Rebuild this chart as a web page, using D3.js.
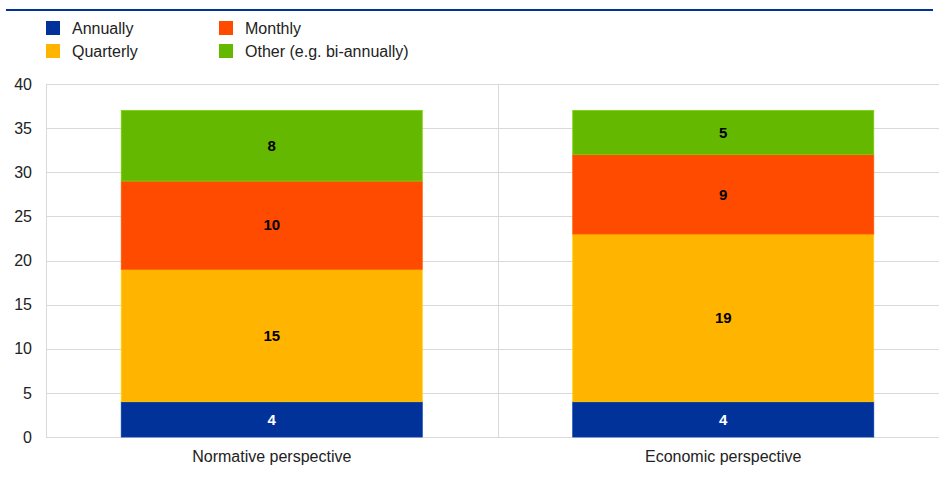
<!DOCTYPE html>
<html>
<head>
<meta charset="utf-8">
<script src="https://cdn.jsdelivr.net/npm/d3@7"></script>
<style>
  html, body { margin: 0; padding: 0; background: #fff; }
  svg { display: block; font-family: "Liberation Sans", Arial, sans-serif; }
</style>
</head>
<body>
<svg id="chart" width="939" height="480"></svg>
<script>
// Categories and stacked series (number of respondents per reporting frequency)
const categories = ["Normative perspective", "Economic perspective"];
const seriesNames = ["Annually", "Quarterly", "Monthly", "Other (e.g. bi-annually)"];
const annually = [4, 4];
const quarterly = [15, 19];
const monthly = [10, 9];
const other = [8, 5];
const yTicks = [0, 5, 10, 15, 20, 25, 30, 35, 40];
const colors = ["#003299", "#ffb400", "#ff4b00", "#65b800"];

const svg = d3.select("#chart");
const W = 939, H = 480;
const margin = { left: 46, right: -10, top: 84, bottom: 43 };
const plotW = W - margin.left - margin.right;
const plotH = H - margin.top - margin.bottom;

const rows = categories.map((c, i) => ({
  cat: c,
  "Annually": annually[i],
  "Quarterly": quarterly[i],
  "Monthly": monthly[i],
  "Other (e.g. bi-annually)": other[i]
}));
const stacked = d3.stack().keys(seriesNames)(rows);

const x = d3.scaleBand().domain(categories).range([margin.left, margin.left + plotW])
  .paddingInner(0).paddingOuter(0);
const y = d3.scaleLinear().domain([0, 40]).range([margin.top + plotH, margin.top]);
const barW = x.bandwidth() * 2 / 3;

// Top rule
svg.append("rect").attr("x", 6).attr("y", 9).attr("width", 927).attr("height", 2).attr("fill", "#003299");

// Gridlines
const grid = svg.append("g");
grid.selectAll("line.h").data(yTicks).join("line")
  .attr("x1", margin.left).attr("x2", W)
  .attr("y1", d => Math.round(y(d)) + 0.5).attr("y2", d => Math.round(y(d)) + 0.5)
  .attr("stroke", "#d9d9d9").attr("stroke-width", 1);
// Category separators and left axis line
grid.selectAll("line.v").data(categories).join("line")
  .attr("x1", d => Math.round(x(d)) + 0.5).attr("x2", d => Math.round(x(d)) + 0.5)
  .attr("y1", y(40)).attr("y2", y(0))
  .attr("stroke", "#d9d9d9").attr("stroke-width", 1);

// Y axis labels
const yAxis = d3.axisLeft(y).tickValues(yTicks).tickSize(0).tickPadding(14);
const yg = svg.append("g").attr("transform", `translate(${margin.left},0)`).call(yAxis);
yg.select(".domain").remove();
yg.selectAll("text").attr("font-size", 16).attr("fill", "#222")
  .attr("font-family", "Liberation Sans, Arial, sans-serif");

// X axis labels
const xAxis = d3.axisBottom(x).tickSize(0).tickPadding(14);
const xg = svg.append("g").attr("transform", `translate(0,${y(0)})`).call(xAxis);
xg.select(".domain").remove();
xg.selectAll("text").attr("font-size", 16).attr("fill", "#222")
  .attr("font-family", "Liberation Sans, Arial, sans-serif");

// Bars
const layers = svg.append("g").selectAll("g").data(stacked).join("g")
  .attr("fill", (d, i) => colors[i]);
layers.selectAll("rect").data(d => d.map(p => Object.assign(p, { key: d.key, idx: d.index })))
  .join("rect")
  .attr("x", d => x(d.data.cat) + (x.bandwidth() - barW) / 2)
  .attr("width", barW)
  .attr("y", d => y(d[1]))
  .attr("height", d => y(d[0]) - y(d[1]))
  .attr("stroke", d => d3.color(colors[d.idx]).brighter(0.4))
  .attr("stroke-width", 0.8);

// Value labels
svg.append("g").selectAll("g").data(stacked).join("g")
  .selectAll("text").data(d => d).join("text")
  .attr("x", d => x(d.data.cat) + x.bandwidth() / 2)
  .attr("y", d => (y(d[0]) + y(d[1])) / 2)
  .attr("dy", "0.35em")
  .attr("text-anchor", "middle")
  .attr("font-size", 15).attr("font-weight", "bold")
  .attr("fill", d => d.idx === 0 ? "#fff" : "#000")
  .text(d => d[1] - d[0]);

// Legend
const legendPos = [[46, 21], [46, 44], [219, 21], [219, 44]];
const lg = svg.append("g").selectAll("g").data(seriesNames).join("g")
  .attr("transform", (d, i) => `translate(${legendPos[i][0]},${legendPos[i][1]})`);
lg.append("rect").attr("width", 14).attr("height", 14).attr("fill", (d, i) => colors[i]);
lg.append("text").attr("x", 26).attr("y", 7).attr("dy", "0.35em")
  .attr("font-size", 16).attr("fill", "#222").text(d => d);
</script>
</body>
</html>
